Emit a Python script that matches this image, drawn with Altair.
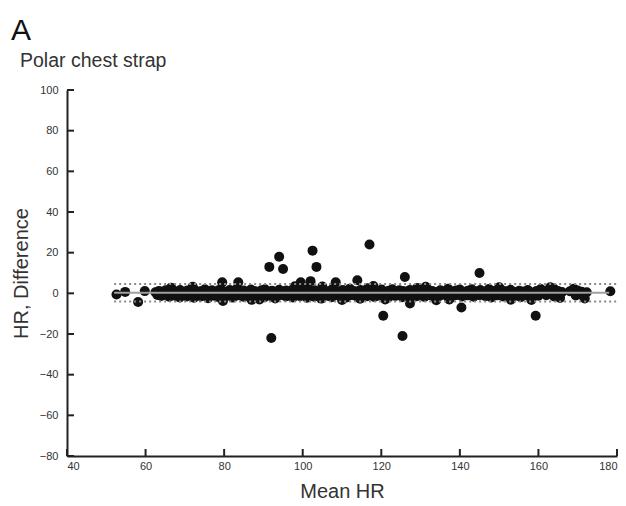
import altair as alt
import pandas as pd

# ---- data ----
band_upper_x = [62.5, 63.4, 64.3, 65.1, 66, 67, 67.9, 68.8, 69.7, 70.6, 71.5, 72.4, 73.3, 74.2, 75.1, 76, 76.9, 77.8, 78.7, 79.6,
                80.5, 81.4, 82.3, 83.2, 84.1, 85, 85.9, 86.8, 87.7, 88.6, 89.5, 90.4, 91.3, 92.2, 93.1, 94, 94.9, 95.8, 96.7, 97.6,
                98.5, 99.4, 100.3, 101.2, 102.1, 103, 103.9, 104.8, 105.7, 106.6, 107.5, 108.4, 109.3, 110.2, 111.1, 112, 112.9,
                113.8, 114.7, 115.6, 116.5, 117.4, 118.3, 119.2, 120.1, 121, 121.9, 122.8, 123.7, 124.6, 125.5, 126.4, 127.3,
                128.2, 129.1, 130, 131, 132, 133, 134, 135, 136, 137, 138, 139, 140, 141, 142, 143, 144, 145.2, 146.3, 147.4,
                148.5, 149.6, 150.7, 151.8, 152.9, 154, 155.1, 156.2, 157.3, 159.5, 160.6, 161.7, 162.8, 163.9, 165, 166, 168,
                169, 170, 171, 172.3]
band_upper_y = [0.5, 1.2, 0.8, 1.5, 0.6, 1.3, 0.9, 1.6, 0.7, 1.4, 1.0, 1.8, 0.8, 1.2, 2.0, 0.9, 1.5, 0.7, 1.7, 1.1,
                0.8, 1.6, 1.0, 2.2, 0.9, 1.4, 0.7, 1.9, 1.1, 0.8, 1.5, 2.0, 0.9, 1.3, 0.6, 1.8, 1.0, 1.4, 0.8, 2.1,
                1.2, 0.9, 1.6, 2.4, 1.0, 1.5, 0.7, 1.8, 1.1, 0.9, 2.0, 1.3, 0.8, 1.7, 1.0, 2.3, 1.2,
                0.9, 1.6, 1.1, 2.5, 0.8, 1.4, 1.0, 1.9, 0.7, 1.3, 2.0, 0.9, 1.5, 1.1, 0.8, 1.7,
                1.0, 2.6, 1.2, 0.9, 1.8, 1.1, 0.7, 1.5, 1.0, 2.2, 0.9, 1.4, 1.9, 0.8, 1.3, 2.0, 1.0, 1.6, 0.9, 2.1,
                1.2, 0.8, 1.5, 1.0, 1.8, 0.7, 1.3, 0.9, 1.6, 1.2, 2.1, 1.0, 1.7, 2.4, 1.1, 0.6, 1.0,
                2.2, 1.4, 0.8, 0.5]

band_lower_x = [63, 64, 65, 66, 66.9, 67.8, 68.7, 69.6, 70.5, 71.4, 72.3, 73.2, 74.1, 75, 75.9, 76.8, 77.7, 78.6, 79.5, 80.4,
                81.3, 82.2, 83.1, 84, 84.9, 85.8, 86.7, 87.6, 88.5, 89.4, 90.3, 91.2, 92.1, 93, 93.9, 94.8, 95.7, 96.6, 97.5,
                98.4, 99.3, 100.2, 101.1, 102, 102.9, 103.8, 104.7, 105.6, 106.5, 107.4, 108.3, 109.2, 110.1, 111, 111.9,
                112.8, 113.7, 114.6, 115.5, 116.4, 117.3, 118.2, 119.1, 120, 120.9, 121.8, 122.7, 123.6, 124.5, 125.4,
                126.3, 127.2, 128.1, 129, 129.9, 131, 132, 133, 134, 135, 136, 137.3, 138.4, 139.5, 140.6, 142, 143.5,
                145, 146.5, 148, 149.5, 151, 152.5, 154, 155.5, 157, 158.5, 160, 162, 164, 165.5, 169.5, 171]
band_lower_y = [-0.8, -1.3, -0.6, -1.7, -0.9, -1.4, -2.0, -0.8, -1.5, -1.1, -2.2, -0.9, -1.6, -1.0, -2.4, -0.7, -1.3, -1.9, -1.0, -1.5,
                -0.8, -2.1, -1.2, -0.9, -1.7, -1.1, -2.3, -0.8, -1.4, -1.0, -1.9, -0.7, -1.5, -2.5, -1.1, -0.8, -1.6, -1.2, -2.0,
                -0.9, -1.4, -1.0, -2.2, -0.8, -1.7, -1.1, -2.6, -0.9, -1.3, -1.9, -1.0, -0.7, -1.5, -2.1, -1.1,
                -0.8, -1.6, -2.7, -1.0, -1.4, -0.9, -1.8, -1.2, -0.7, -1.5, -2.0, -1.0, -1.3, -0.8, -1.9,
                -1.1, -2.8, -0.9, -1.4, -1.0, -1.8, -0.8, -1.3, -2.0, -1.1, -0.7, -2.9, -1.2, -0.8, -1.5, -1.0, -1.7,
                -0.9, -1.4, -2.0, -1.0, -1.6, -0.8, -1.3, -1.9, -1.0, -0.7, -1.2, -0.9, -1.5, -2.3, -1.1, -0.8]

edge_x = [52.6, 54.8, 58.1, 59.8, 66.5, 72, 79.5, 79.7, 83.6, 87, 89, 98, 99.5, 102, 105, 108.4, 110, 113.9, 118, 121,
          126, 127.3, 131.3, 134, 137.3, 140.4, 145, 150, 153, 158.2, 163, 171.8]
edge_y = [-0.6, 0.7, -4.3, 1.1, 2.8, 3.2, 5.4, -3.8, 5.4, -3.2, -3.0, 3.5, 5.4, 6.0, 3.3, 5.4, -3.3, 6.4, 3.6, -3.0,
          8.0, -5.0, 3.2, -3.4, -3.0, -7.0, 10.0, 3.0, -3.1, -3.3, 3.0, -2.5]

outlier_x = [91.5, 94, 95, 92, 102.5, 103.5, 117, 120.5, 125.4, 159.3, 178.3]
outlier_y = [13, 18, 12, -22, 21, 13, 24, -11, -21, -11, 1]

# Bland-Altman lines: bias and limits of agreement
line_level = [0.3, 4.6, -4.0]
line_start = [52, 52, 52]
line_end = [178, 180, 180]
line_kind = ["mean", "limit", "limit"]

x_ticks = [40, 60, 80, 100, 120, 140, 160, 180]
y_ticks = [-80, -60, -40, -20, 0, 20, 40, 60, 80, 100]

panel_letter = "A"
panel_title = "Polar chest strap"
x_title = "Mean HR"
y_title = "HR, Difference"

# ---- tables ----
pts = pd.DataFrame({
    "mean_hr": band_upper_x + band_lower_x + edge_x + outlier_x,
    "diff": band_upper_y + band_lower_y + edge_y + outlier_y,
})
lines = pd.DataFrame({"x0": line_start, "x1": line_end, "diff": line_level, "kind": line_kind})
xt = pd.DataFrame({"mean_hr": x_ticks})
yt = pd.DataFrame({"diff": y_ticks})

W, H = 550, 366
FONT = "Liberation Sans"

xscale = alt.Scale(domain=[40, 180], nice=False, zero=False)
yscale = alt.Scale(domain=[-80, 100], nice=False, zero=False)
xaxis = alt.Axis(values=x_ticks, ticks=False, grid=False, title=x_title, labelPadding=4,
                 titlePadding=10, format="d")
yaxis = alt.Axis(values=y_ticks, ticks=False, grid=False, title=y_title, labelPadding=9,
                 titlePadding=8, format="d")

X = alt.X("mean_hr:Q", scale=xscale, axis=xaxis)
Y = alt.Y("diff:Q", scale=yscale, axis=yaxis)

points = alt.Chart(pts).mark_circle(size=100, color="#111111", opacity=1).encode(x=X, y=Y)

mean_line = alt.Chart(lines).transform_filter(alt.datum.kind == "mean").mark_rule(
    color="#a0a0a0", strokeWidth=2).encode(
    x=alt.X("x0:Q", scale=xscale, axis=xaxis), x2="x1:Q", y=Y)
limit_lines = alt.Chart(lines).transform_filter(alt.datum.kind == "limit").mark_rule(
    color="#8a8a8a", strokeWidth=2, strokeDash=[2, 3]).encode(
    x=alt.X("x0:Q", scale=xscale, axis=xaxis), x2="x1:Q", y=Y)

xtick_marks = alt.Chart(xt).mark_rule(color="#222222", strokeWidth=2).encode(
    x=X, y=alt.value(H), y2=alt.value(H - 7))
ytick_marks = alt.Chart(yt).mark_rule(color="#222222", strokeWidth=2).encode(
    y=Y, x=alt.value(0), x2=alt.value(7))

letter = alt.Chart(pd.DataFrame({"t": [panel_letter]})).mark_text(
    font=FONT, fontSize=30, align="left", baseline="alphabetic", color="#111111").encode(
    text="t:N", x=alt.value(-56), y=alt.value(-50))
subtitle = alt.Chart(pd.DataFrame({"t": [panel_title]})).mark_text(
    font=FONT, fontSize=19.5, align="left", baseline="alphabetic", color="#333333").encode(
    text="t:N", x=alt.value(-47), y=alt.value(-23))

chart = alt.layer(points, mean_line, limit_lines, xtick_marks, ytick_marks, letter, subtitle).properties(
    width=W, height=H,
    autosize=alt.AutoSizeParams(type="none"),
    padding={"left": 59, "top": 82, "right": 1, "bottom": 48},
).configure_view(stroke=None).configure_axis(
    domainColor="#222222", domainWidth=2,
    labelFont=FONT, labelFontSize=11, labelColor="#333333",
    titleFont=FONT, titleFontSize=20, titleFontWeight="normal", titleColor="#333333",
)

chart.save("out.html", embed_options={"renderer": "svg", "actions": False})
